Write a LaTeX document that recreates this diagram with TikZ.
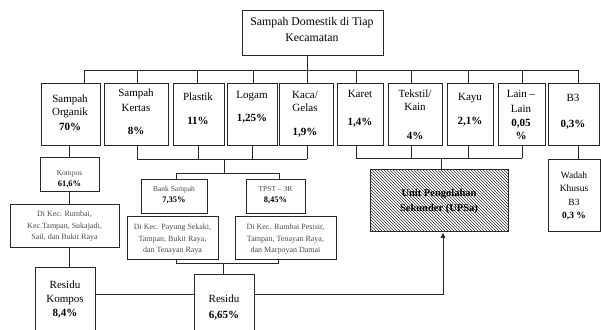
\documentclass[tikz,border=0pt]{standalone}
\usepackage{fontspec}
\setmainfont{Liberation Serif}
\usetikzlibrary{arrows.meta,patterns}

\tikzset{
  box/.style={draw=black!85, line width=0.8pt, inner sep=0pt, fill=white},
  link/.style={draw=black!85, line width=0.8pt},
  txt/.style={anchor=base, inner sep=0pt, yshift=-3.6pt, font=\fontsize{11}{13}\selectfont},
  num/.style={txt, font=\fontsize{11}{13}\selectfont\bfseries},
  big/.style={txt, font=\fontsize{11.8}{13}\selectfont},
  mid/.style={anchor=base, inner sep=0pt, yshift=-3.2pt, font=\fontsize{9.5}{11}\selectfont},
  midnum/.style={mid, font=\fontsize{9.5}{11}\selectfont\bfseries},
  small/.style={anchor=base, inner sep=0pt, yshift=-2.7pt, font=\fontsize{8}{9}\selectfont, text=black!70},
  tiny/.style={anchor=base, inner sep=0pt, yshift=-2.5pt, font=\fontsize{7.5}{8}\selectfont, text=black!70},
  smallnum/.style={anchor=base, inner sep=0pt, yshift=-2.8pt, font=\fontsize{8.5}{9}\selectfont\bfseries},
  hatch/.style={box, fill=white, postaction={pattern=north west lines, pattern color=black!80}},
}

% \rbox[style]{name}{x1}{y1}{x2}{y2}: rectangle node spanning the given corners
\newcommand\rbox[6][]{%
  \node[box,#1, minimum width={(#5)-(#3)}, minimum height={(#6)-(#4)}]
    (#2) at ({((#3)+(#5))/2},{((#4)+(#6))/2}) {};}
% \tline[style]{name}{x}{y}{text}: one line of text
\newcommand\tline[5][txt]{\node[#1] (#2) at (#3,#4) {#5};}

\begin{document}
\begin{tikzpicture}[x=1pt,y=-1pt]
\clip (0,0) rectangle (601,329);
\fill[white] (0,0) rectangle (601,329);

% ---- boxes ----
\rbox{top}{242}{10}{383}{55}
\rbox{org}{41}{83}{100}{145}
\rbox{ker}{104}{83}{168}{145}
\rbox{pla}{173}{83}{224}{145}
\rbox{log}{227}{83}{277}{145}
\rbox{kac}{279}{83}{333}{145}
\rbox{kar}{337}{83}{383}{145}
\rbox{tek}{388}{83}{442}{145}
\rbox{kay}{447}{83}{493}{145}
\rbox{lai}{498}{83}{545}{145}
\rbox{b3}{548}{83}{599.5}{145}

\rbox{kompos}{40}{157}{99}{191}
\rbox{dkr}{10}{204}{119}{247}
\rbox{bank}{141}{179}{207}{213}
\rbox{tpst}{246}{179}{305}{213}
\rbox{pay}{127}{216}{218}{259}
\rbox{pes}{235}{216}{336}{259}
\rbox[hatch]{upsa}{370}{169}{508}{231}
\rbox{wadah}{548}{159}{600}{231}
\rbox{rk}{35}{267}{95}{345}
\rbox{res}{194}{274}{254}{345}

% ---- texts ----
\tline[big]{top-1}{312}{22}{Sampah Domestik di Tiap}
\tline[big]{top-2}{312}{38}{Kecamatan}

\tline{org-1}{70}{99}{Sampah}
\tline{org-2}{70}{112}{Organik}
\tline[num]{org-3}{70}{127}{70\%}

\tline{ker-1}{136}{93}{Sampah}
\tline{ker-2}{136}{108}{Kertas}
\tline[num]{ker-3}{136}{131}{8\%}

\tline{pla-1}{198}{97}{Plastik}
\tline[num]{pla-2}{198}{121}{11\%}

\tline{log-1}{252}{95}{Logam}
\tline[num]{log-2}{252}{118}{1,25\%}

\tline{kac-1}{305}{95}{Kaca/}
\tline{kac-2}{305}{108}{Gelas}
\tline[num]{kac-3}{305}{132}{1,9\%}

\tline{kar-1}{360}{94}{Karet}
\tline[num]{kar-2}{360}{122}{1,4\%}

\tline{tek-1}{415}{94}{Tekstil/}
\tline{tek-2}{415}{107}{Kain}
\tline[num]{tek-3}{415}{136}{4\%}

\tline{kay-1}{470}{97}{Kayu}
\tline[num]{kay-2}{470}{121}{2,1\%}

\tline{lai-1}{521}{94}{Lain –}
\tline{lai-2}{521}{109}{Lain}
\tline[num]{lai-3}{521}{123}{0,05}
\tline[num]{lai-4}{521}{136}{\%}

\tline{b3-1}{573}{98}{B3}
\tline[num]{b3-2}{573}{124}{0,3\%}

\tline[tiny]{kompos-1}{69.5}{173}{Kompos}
\tline[smallnum]{kompos-2}{69.5}{184}{61,6\%}

\tline[small]{dkr-1}{64.5}{214}{Di Kec. Rumbai,}
\tline[small]{dkr-2}{64.5}{226}{Kec.Tampan, Sukajadi,}
\tline[small]{dkr-3}{64.5}{237}{Sail, dan Bukit Raya}

\tline[tiny]{bank-1}{174}{189}{Bank Sampah}
\tline[smallnum]{bank-2}{174}{200}{7,35\%}
\tline[tiny]{tpst-1}{275.5}{189}{TPST – 3R}
\tline[smallnum]{tpst-2}{275.5}{200}{8,45\%}

\tline[small]{pay-1}{172.5}{227}{Di Kec. Payung Sekaki,}
\tline[small]{pay-2}{172.5}{239}{Tampan, Bukit Raya,}
\tline[small]{pay-3}{172.5}{250}{dan Tenayan Raya}
\tline[small]{pes-1}{285.5}{227}{Di Kec. Rumbai Pesisir,}
\tline[small]{pes-2}{285.5}{239}{Tampan, Tenayan Raya,}
\tline[small]{pes-3}{285.5}{250}{dan Marpoyan Damai}

\tline[mid]{wadah-1}{574}{175}{Wadah}
\tline[mid]{wadah-2}{574}{188}{Khusus}
\tline[mid]{wadah-3}{574}{202}{B3}
\tline[midnum]{wadah-4}{574}{215}{0,3 \%}

\tline[txt,font=\fontsize{10.5}{12}\selectfont\bfseries]{upsa-1}{439}{193}{Unit Pengolahan}
\tline[txt,font=\fontsize{10.5}{12}\selectfont\bfseries]{upsa-2}{439}{208}{Sekunder (UPSa)}

\tline{rk-1}{65}{285}{Residu}
\tline{rk-2}{65}{299}{Kompos}
\tline[num]{rk-3}{65}{313}{8,4\%}
\tline{res-1}{224}{299}{Residu}
\tline[num]{res-2}{224}{315}{6,65\%}

% ---- upper distribution bus ----
\foreach \n/\x in {org/84,ker/137,pla/197,log/253,kac/307,kar/356,tek/411,kay/468,lai/522,b3/578.5}
  \coordinate (ts-\n) at (\x,70);
\draw[link] (ts-org) -- (ts-b3);
\draw[link] (top.south -| ts-kac) -- (ts-kac);
\foreach \n in {org,ker,pla,log,kac,kar,tek,kay,lai,b3}
  \draw[link] (ts-\n) -- (ts-\n |- \n.north);

% ---- recyclables to bank sampah / TPST ----
\foreach \n/\x in {ker/137,pla/198,log/252,kac/307}
  \coordinate (bs-\n) at (\x,159);
\draw[link] (bs-ker) -- (bs-kac);
\foreach \n in {ker,pla,log,kac}
  \draw[link] (bs-\n |- \n.south) -- (bs-\n);
\coordinate (bs-mid) at (224,159);
\coordinate (f-bank) at (176,173);
\coordinate (f-tpst) at (279,173);
\draw[link] (bs-mid) -- (bs-mid |- f-bank);
\draw[link] (f-bank) -- (f-tpst);
\draw[link] (f-bank) -- (f-bank |- bank.north);
\draw[link] (f-tpst) -- (f-tpst |- tpst.north);

% ---- other materials to UPSa ----
\foreach \n/\x in {kar/356,tek/411,kay/468,lai/522}
  \coordinate (bk-\n) at (\x,158);
\draw[link] (bk-kar) -- (bk-lai);
\foreach \n in {kar,tek,kay,lai}
  \draw[link] (bk-\n |- \n.south) -- (bk-\n);
\coordinate (bk-mid) at (441,158);
\draw[link] (bk-mid) -- (bk-mid |- upsa.north);

% ---- B3 ----
\draw[link] (ts-b3 |- b3.south) -- (ts-b3 |- wadah.north);

% ---- organic branch ----
\coordinate (os) at (69,0);
\draw[link] (os |- org.south) -- (os |- kompos.north);
\draw[link] (os |- kompos.south) -- (os |- dkr.north);
\draw[link] (os |- dkr.south) -- (os |- rk.north);

% ---- residues ----
\coordinate (j-bank) at (176,263);
\coordinate (j-tpst) at (278,263);
\coordinate (j-mid) at (223,263);
\draw[link] (j-bank |- pay.south) -- (j-bank) -- (j-tpst) -- (j-tpst |- pes.south);
\draw[link] (j-mid) -- (j-mid |- res.north);

\coordinate (ua) at (443,294);
\draw[link] (rk.east |- ua) -- (res.west |- ua);
\draw[link, -{Triangle[width=4.5pt,length=5pt]}, shorten >=1.5pt]
  (res.east |- ua) -- (ua) -- (ua |- upsa.south);
\end{tikzpicture}
\end{document}
